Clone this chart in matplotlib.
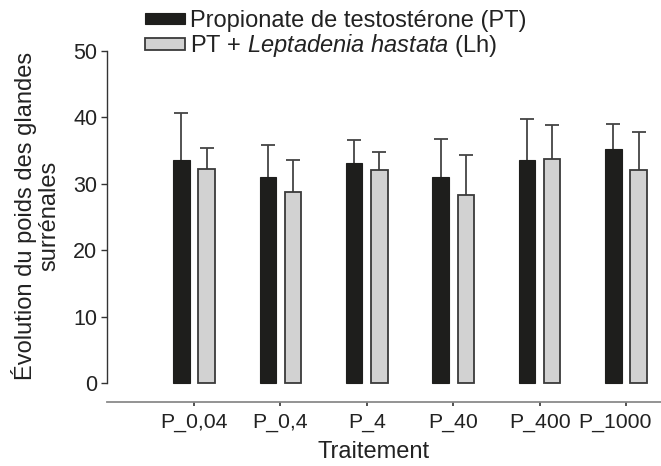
import numpy as np
import matplotlib
matplotlib.use("Agg")
import matplotlib.pyplot as plt
import matplotlib.transforms as mtransforms

plt.rcParams['font.family'] = ['Liberation Sans', 'DejaVu Sans']
plt.rcParams['mathtext.fontset'] = 'custom'
plt.rcParams['mathtext.it'] = 'Liberation Sans:italic'
plt.rcParams['mathtext.rm'] = 'Liberation Sans'

categories = ["P_0,04", "P_0,4", "P_4", "P_40", "P_400", "P_1000"]
pt_mean = [33.6, 31.0, 33.1, 31.1, 33.6, 35.3]
pt_err = [7.1, 4.8, 3.5, 5.6, 6.1, 3.7]
lh_mean = [32.3, 28.8, 32.1, 28.3, 33.8, 32.1]
lh_err = [3.1, 4.8, 2.7, 6.1, 5.0, 5.7]

W, H = 661, 466
fig = plt.figure(figsize=(W/100, H/100), dpi=100)
ax = fig.add_axes([107/W, 1-402/H, (661-107)/W, (402-51)/H])

x = np.arange(len(categories))
bw = 0.19
off = 0.145
ekw = dict(fmt='none', ecolor='#444444', elinewidth=1.3, capsize=4.7, capthick=1.3, zorder=1)

# upper error bars only: drop the cap at the bar top
for xs, m, e in [(x - off, pt_mean, pt_err), (x + off, lh_mean, lh_err)]:
    eb = ax.errorbar(xs, m, yerr=[np.zeros(len(e)), e], **ekw)
    eb[1][0].set_visible(False)

b1 = ax.bar(x - off, pt_mean, bw, color='#1e1e1c', edgecolor='#1e1e1c', lw=0.8,
            zorder=2, label='Propionate de testostérone (PT)')
b2 = ax.bar(x + off, lh_mean, bw, color='#d2d2d2', edgecolor='#3a3a3a', lw=1.3,
            zorder=2, label=r'PT + $\it{Leptadenia\ hastata}$ (Lh)')

ax.set_xlim(-1.007, 5.405)
ax.set_ylim(-2.8, 50)
ax.set_yticks([0, 10, 20, 30, 40, 50])
ax.set_xticks(x)
ax.set_xticklabels(categories)

for s in ['top', 'right']:
    ax.spines[s].set_visible(False)
ax.spines['left'].set_bounds(0, 50)
ax.spines['left'].set_color('#333333')
ax.spines['left'].set_linewidth(1.0)
ax.spines['bottom'].set_color('#8a8a8a')
ax.spines['bottom'].set_linewidth(1.3)

ax.tick_params(axis='y', direction='out', length=4, width=1, color='#333333',
               labelsize=15.5, pad=3, labelcolor='#222222')
ax.tick_params(axis='x', direction='out', length=3, width=1.2, color='#333333',
               labelsize=15.3, pad=5, labelcolor='#222222')

# last label sits a bit left of its tick in the original
lab = ax.get_xticklabels()[-1]
lab.set_transform(lab.get_transform() + mtransforms.ScaledTranslation(-11/100, 0, fig.dpi_scale_trans))

fig.text(36/W, 1-216/H, "Évolution du poids des glandes\nsurrénales", rotation=90,
         ha='center', va='center', multialignment='center', fontsize=17,
         color='#222222', linespacing=1.1)
fig.text(374/W, 1-452/H, "Traitement", ha='center', va='center', fontsize=17,
         color='#222222')

ax.legend(handles=[b1, b2], loc='upper left', bbox_to_anchor=(145/W, 1-10/H),
          bbox_transform=fig.transFigure, frameon=False, fontsize=17,
          handlelength=1.7, handleheight=0.38, handletextpad=0.22,
          labelspacing=0.02, borderpad=0, borderaxespad=0, labelcolor='#222222')

fig.savefig("out.png", dpi=100)
